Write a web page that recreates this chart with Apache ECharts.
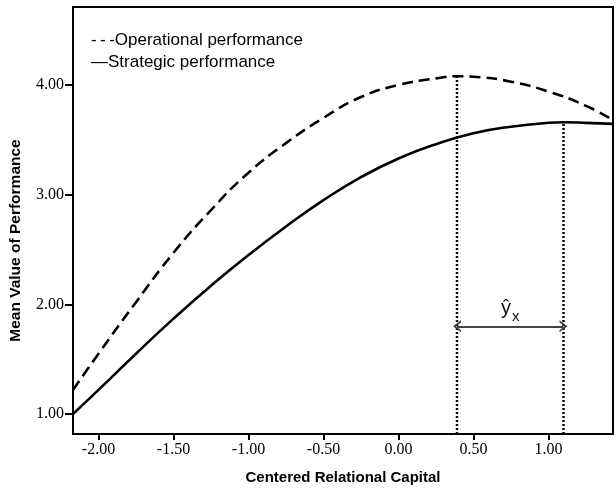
<!DOCTYPE html>
<html>
<head>
<meta charset="utf-8">
<script src="https://cdn.jsdelivr.net/npm/echarts@6/dist/echarts.min.js"></script>
<style>
html,body{margin:0;padding:0;background:#fff;}
#chart{width:616px;height:490px;}
</style>
</head>
<body>
<div id="chart"></div>
<script>
// ---- data ----
const seriesNames = ['Operational performance', 'Strategic performance'];
const opX = [-2.17, -2.0, -1.75, -1.5, -1.25, -1.0, -0.75, -0.5, -0.25, 0.0, 0.25, 0.4, 0.5, 0.75, 1.0, 1.25, 1.43];
const opY = [1.22, 1.55, 2.02, 2.47, 2.86, 3.20, 3.47, 3.70, 3.89, 4.00, 4.06, 4.08, 4.075, 4.03, 3.94, 3.81, 3.68];
const stX = [-2.17, -2.0, -1.75, -1.5, -1.25, -1.0, -0.75, -0.5, -0.25, 0.0, 0.25, 0.5, 0.75, 1.0, 1.1, 1.25, 1.43];
const stY = [1.00, 1.22, 1.55, 1.87, 2.17, 2.45, 2.71, 2.95, 3.16, 3.33, 3.46, 3.56, 3.62, 3.655, 3.66, 3.655, 3.645];
const peakX = [0.39, 1.10];          // dotted reference lines (x of each maximum)
const peakY = [4.08, 3.66];          // top of each dotted line
const arrowY = 1.80;                 // level of the double arrow
const xTicks = [-2.0, -1.5, -1.0, -0.5, 0.0, 0.5, 1.0];
const yTicks = [1, 2, 3, 4];
const xRange = [-2.17, 1.43];
const yRange = [0.818, 4.711];
const xTitle = 'Centered Relational Capital';
const yTitle = 'Mean Value of Performance';

const zip = (xs, ys) => xs.map((x, i) => [x, ys[i]]);
const chevron = 'path://M0,10 L5,0 L10,10 L8.2,10 L5,3.6 L1.8,10 Z';

const chart = echarts.init(document.getElementById('chart'), null, {renderer: 'canvas'});
const serif = 'Liberation Serif';
const sans = 'Liberation Sans';

const option = {
  animation: false,
  backgroundColor: '#fff',
  grid: {left: 72, right: 3, top: 7, bottom: 56, show: true, borderColor: '#000', borderWidth: 2, backgroundColor: 'transparent'},
  legend: {
    orient: 'vertical', left: 80, top: 27, itemGap: 5,
    itemWidth: 0, itemHeight: 0,
    data: seriesNames,
    selectedMode: false,
    textStyle: {fontFamily: sans, fontSize: 17, color: '#000'},
    formatter: n => (n === seriesNames[0] ? '-\u2009-\u2009-' : '\u2014') + n
  },
  xAxis: {
    type: 'value', min: xRange[0], max: xRange[1],
    name: xTitle, nameLocation: 'middle', nameGap: 36,
    nameTextStyle: {fontFamily: sans, fontWeight: 'bold', fontSize: 15, color: '#000'},
    axisLine: {onZero: false, lineStyle: {color: '#000', width: 2}},
    axisTick: {customValues: xTicks, length: 6, lineStyle: {color: '#000', width: 2}},
    axisLabel: {customValues: xTicks, formatter: v => v.toFixed(2), margin: 8,
      fontFamily: serif, fontSize: 16, color: '#000'},
    splitLine: {show: false}
  },
  yAxis: {
    type: 'value', min: yRange[0], max: yRange[1],
    name: yTitle, nameLocation: 'middle', nameGap: 49, nameRotate: 90,
    nameTextStyle: {fontFamily: sans, fontWeight: 'bold', fontSize: 15.5, color: '#000', padding: [0, 40, 0, 0]},
    axisLine: {onZero: false, lineStyle: {color: '#000', width: 2}},
    axisTick: {customValues: yTicks, length: 8, lineStyle: {color: '#000', width: 2}},
    axisLabel: {customValues: yTicks, formatter: v => v.toFixed(2), margin: 9,
      fontFamily: serif, fontSize: 16, color: '#000'},
    splitLine: {show: false}
  },
  series: [
    {
      name: seriesNames[0], type: 'line', data: zip(opX, opY), smooth: true,
      showSymbol: false, symbol: 'none', silent: true,
      lineStyle: {color: '#000', width: 2.6, type: [11, 6]}, itemStyle: {color: '#000'}
    },
    {
      name: seriesNames[1], type: 'line', data: zip(stX, stY), smooth: true,
      showSymbol: false, symbol: 'none', silent: true,
      lineStyle: {color: '#000', width: 2.6, type: 'solid'}, itemStyle: {color: '#000'},
      markLine: {
        silent: true, animation: false, precision: 2,
        symbol: [chevron, chevron], symbolSize: [12, 8], symbolOffset: [0, 0],
        lineStyle: {color: '#444', width: 2, type: 'solid'},
        label: {
          show: true, position: 'middle', distance: 4,
          formatter: '{a|\u0177}{b|x}',
          rich: {
            a: {fontFamily: sans, fontSize: 20, lineHeight: 24, color: '#111', verticalAlign: 'top'},
            b: {fontFamily: sans, fontSize: 15, lineHeight: 15, color: '#111', padding: [11, 0, 0, 1], verticalAlign: 'top'}
          }
        },
        data: [[{coord: [peakX[0], arrowY]}, {coord: [peakX[1], arrowY]}]]
      }
    },
    {
      name: 'ref1', type: 'line', data: [[peakX[0], yRange[0]], [peakX[0], peakY[0]]],
      showSymbol: false, symbol: 'none', silent: true,
      lineStyle: {color: '#000', width: 2.5, type: [2, 2]}
    },
    {
      name: 'ref2', type: 'line', data: [[peakX[1], yRange[0]], [peakX[1], peakY[1]]],
      showSymbol: false, symbol: 'none', silent: true,
      lineStyle: {color: '#000', width: 2.5, type: [2, 2]}
    }
  ]
};
chart.setOption(option);
</script>
</body>
</html>
